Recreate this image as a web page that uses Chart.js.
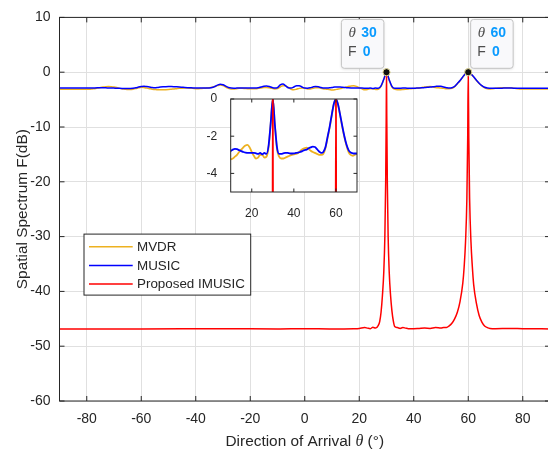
<!DOCTYPE html>
<html>
<head>
<meta charset="utf-8">
<script src="https://cdn.jsdelivr.net/npm/chart.js@4.4.1/dist/chart.umd.min.js"></script>
<style>
  html, body { margin: 0; padding: 0; background: #fff; }
  #wrap { position: relative; width: 548px; height: 453px; overflow: hidden; }
  #spectrum { position: absolute; left: 0; top: 0; }
  #zoomed { position: absolute; left: 190px; top: 85px; }
</style>
</head>
<body>
<div id="wrap">
  <canvas id="spectrum" width="560" height="453"></canvas>
  <canvas id="zoomed" width="175" height="140"></canvas>
</div>
<script>
// scan grid, 1 degree steps from -90 to 90
const theta = Array.from({ length: 181 }, (_, i) => i - 90);

const mvdrDb = [
  -3.1, -3.1, -3.1, -3.1, -3.1, -3.1, -3.1, -3.1, -3.1, -3.1,            // -90..-81
  -3.1, -3.1, -3.05, -3.0, -2.9, -2.8, -2.72, -2.66, -2.63, -2.65,       // -80..-71
  -2.7, -2.8, -2.95, -3.05, -3.1, -3.15, -3.15, -3.1, -3.0, -2.85,       // -70..-61
  -2.75, -2.8, -2.9, -3.0, -3.1, -3.15, -3.2, -3.2, -3.2, -3.18,         // -60..-51
  -3.15, -3.1, -3.05, -3.0, -2.95, -2.92, -2.9, -2.9, -2.92, -2.95,      // -50..-41
  -3.0, -3.0, -2.98, -2.95, -2.9, -2.85, -2.75, -2.6, -2.45, -2.35,      // -40..-31
  -2.45, -2.7, -2.95, -3.05, -3.05, -3.0, -2.95, -2.95, -2.97, -3.0,     // -30..-21
  -3.0, -3.0, -3.0, -2.95, -2.88, -2.8, -2.78, -2.85, -2.95, -3.05,      // -20..-11
  -3.0, -2.7, -2.45, -2.5, -2.8, -3.1, -3.2, -3.1, -2.95, -2.9,          // -10..-1
  -2.95, -3.05, -3.05, -2.95, -2.85, -2.85, -2.95, -3.05, -3.1, -3.15,   // 0..9
  -3.25, -3.2, -3.1, -3.0, -2.85, -2.72, -2.6, -2.5, -2.47, -2.6,        // 10..19
  -2.85, -3.05, -3.2, -3.15, -3.0, -3.0, -3.15, -3.1, -2.6, -1.35,       // 20..29
  0, -1.45, -2.7, -3.1, -3.2, -3.2, -3.15, -3.1, -3.05, -3.0,            // 30..39
  -2.98, -2.95, -2.9, -2.8, -2.7, -2.65, -2.62, -2.68, -2.78, -2.85,     // 40..49
  -2.9, -2.95, -3.0, -3.0, -2.95, -2.65, -2.1, -1.55, -0.9, -0.28,       // 50..59
  0, -0.32, -0.9, -1.5, -2.05, -2.5, -2.85, -3.0, -3.05, -3.0,           // 60..69
  -2.95, -2.9, -2.85, -2.82, -2.82, -2.85, -2.9, -2.95, -3.0, -3.05,     // 70..79
  -3.05, -3.05, -3.05, -3.05, -3.05, -3.05, -3.05, -3.05, -3.05, -3.05, -3.05 // 80..90
];

const musicDb = [
  -2.9, -2.9, -2.9, -2.9, -2.9, -2.9, -2.9, -2.9, -2.9, -2.9,            // -90..-81
  -2.9, -2.9, -2.88, -2.87, -2.86, -2.85, -2.85, -2.86, -2.87, -2.88,    // -80..-71
  -2.9, -2.92, -2.95, -2.97, -2.98, -2.98, -2.96, -2.92, -2.85, -2.72,   // -70..-61
  -2.62, -2.55, -2.62, -2.7, -2.8, -2.85, -2.8, -2.72, -2.66, -2.64,     // -60..-51
  -2.63, -2.63, -2.64, -2.66, -2.7, -2.75, -2.8, -2.83, -2.85, -2.87,    // -50..-41
  -2.9, -2.9, -2.9, -2.9, -2.9, -2.88, -2.8, -2.6, -2.35, -2.2,          // -40..-31
  -2.3, -2.55, -2.8, -2.9, -2.92, -2.9, -2.88, -2.87, -2.88, -2.9,       // -30..-21
  -2.9, -2.9, -2.88, -2.85, -2.7, -2.55, -2.5, -2.6, -2.8, -2.9,         // -20..-11
  -2.8, -2.3, -2.15, -2.5, -2.85, -2.9, -2.7, -2.45, -2.45, -2.7,        // -10..-1
  -2.9, -2.92, -2.85, -2.7, -2.6, -2.65, -2.8, -2.9, -2.9, -2.85,        // 0..9
  -2.8, -2.72, -2.68, -2.7, -2.75, -2.8, -2.85, -2.88, -2.9, -2.9,       // 10..19
  -2.9, -2.9, -2.92, -2.95, -2.9, -2.97, -2.9, -2.95, -2.5, -1.3,        // 20..29
  0, -1.4, -2.6, -2.95, -2.95, -2.92, -2.9, -2.9, -2.92, -2.93,          // 30..39
  -2.92, -2.9, -2.88, -2.85, -2.8, -2.75, -2.72, -2.65, -2.6, -2.56,     // 40..49
  -2.58, -2.7, -2.82, -2.9, -2.85, -2.6, -2.05, -1.5, -0.85, -0.25,      // 50..59
  0, -0.3, -0.85, -1.45, -2.0, -2.45, -2.75, -2.88, -2.92, -2.93,        // 60..69
  -2.93, -2.93, -2.92, -2.9, -2.9, -2.9, -2.9, -2.92, -2.93, -2.93,      // 70..79
  -2.93, -2.93, -2.93, -2.93, -2.93, -2.93, -2.93, -2.93, -2.93, -2.93, -2.93 // 80..90
];

// proposed method, sampled more finely around the two sources
const imusicTheta = [
  -90, -60, -30, -10, 0, 10, 18, 20, 22, 23, 24, 25, 26, 27, 27.5, 28, 28.5, 29, 29.4, 29.7, 29.9,
  30, 30.1, 30.3, 30.6, 31, 31.5, 32, 32.5, 33, 34, 35, 36, 37, 38, 40, 42, 44, 46, 48, 50, 51, 52,
  53, 54, 55, 56, 57, 58, 58.5, 59, 59.5, 59.8, 60, 60.2, 60.5, 61, 61.5, 62, 63, 64, 65, 66, 67,
  68, 70, 75, 80, 90
];
const imusicDb = [
  -46.85, -46.85, -46.8, -46.85, -46.8, -46.85, -46.8, -46.75, -46.6, -46.7, -46.8, -46.55, -46.7, -46.2, -45.5, -43.8, -40.8, -36.5, -30, -20, -8,
  0, -8, -20, -30, -36.5, -40.8, -43.6, -45.4, -46.4, -46.6, -46.75, -46.6, -46.7, -46.8, -46.8, -46.75, -46.7, -46.75, -46.6, -46.7, -46.6, -46.6,
  -46.3, -45.8, -45.0, -43.8, -41.8, -38.5, -35.5, -31, -23, -12, 0, -12, -23, -31, -35.5, -38.8, -42.2, -44.4, -45.6, -46.3, -46.6,
  -46.75, -46.8, -46.75, -46.8, -46.85
];

// marked peaks
const tipTheta = [30, 60];
const tipF = [0, 0];

const xTicks = [-80, -60, -40, -20, 0, 20, 40, 60, 80];
const yTicks = [-60, -50, -40, -30, -20, -10, 0, 10];
const insetXTicks = [20, 40, 60];
const insetYTicks = [-4, -2, 0];

const SANS = '"Liberation Sans", Arial, sans-serif';
const SERIF = '"Liberation Serif", "DejaVu Serif", serif';
const INK = '#262626';

const toPoints = (xs, ys) => xs.map((x, i) => ({ x, y: ys[i] }));

function seriesSets(width) {
  return [
    { label: 'MVDR', data: toPoints(theta, mvdrDb), borderColor: '#EDB120', order: 3 },
    { label: 'MUSIC', data: toPoints(theta, musicDb), borderColor: '#0000FF', order: 2 },
    { label: 'Proposed IMUSIC', data: toPoints(imusicTheta, imusicDb), borderColor: '#FF0000', order: 1 }
  ].map(d => Object.assign(d, {
    borderWidth: width, pointRadius: 0, fill: false, cubicInterpolationMode: 'monotone'
  }));
}

// box around the axes with inward ticks on all four sides
function drawFrame(chart, tickLen) {
  const { ctx, chartArea: a, scales } = chart;
  ctx.save();
  ctx.strokeStyle = INK;
  ctx.lineWidth = 1;
  ctx.strokeRect(a.left, a.top, a.right - a.left, a.bottom - a.top);
  ctx.beginPath();
  scales.x.ticks.forEach(t => {
    const px = scales.x.getPixelForValue(t.value);
    ctx.moveTo(px, a.bottom); ctx.lineTo(px, a.bottom - tickLen);
    ctx.moveTo(px, a.top); ctx.lineTo(px, a.top + tickLen);
  });
  scales.y.ticks.forEach(t => {
    const py = scales.y.getPixelForValue(t.value);
    ctx.moveTo(a.left, py); ctx.lineTo(a.left + tickLen, py);
    ctx.moveTo(a.right, py); ctx.lineTo(a.right - tickLen, py);
  });
  ctx.stroke();
  ctx.restore();
}

const mainDecor = {
  id: 'mainDecor',
  afterDraw(chart) {
    const { ctx, chartArea: a, scales } = chart;
    drawFrame(chart, 5);

    // x axis title with italic theta
    ctx.save();
    ctx.fillStyle = INK;
    ctx.textBaseline = 'middle';
    const parts = [
      ['Direction of Arrival ', '15.4px ' + SANS],
      ['\u03b8', 'italic 16px ' + SERIF],
      [' (\u00b0)', '15.4px ' + SANS]
    ];
    let total = 0;
    parts.forEach(p => { ctx.font = p[1]; total += ctx.measureText(p[0]).width; });
    let x = (a.left + a.right) / 2 - total / 2;
    parts.forEach(p => {
      ctx.font = p[1];
      ctx.textAlign = 'left';
      ctx.fillText(p[0], x, 442);
      x += ctx.measureText(p[0]).width;
    });
    ctx.restore();

    // legend
    const sets = chart.data.datasets.slice(0, 3);
    const lx = a.left + 24.5, ly = a.top + 216.7, lw = 166.7, lh = 61;
    ctx.save();
    ctx.fillStyle = '#fff';
    ctx.fillRect(lx, ly, lw, lh);
    ctx.strokeStyle = INK;
    ctx.lineWidth = 1;
    ctx.strokeRect(lx, ly, lw, lh);
    ctx.font = '13.4px ' + SANS;
    ctx.textBaseline = 'middle';
    sets.forEach((d, i) => {
      const ry = ly + 12.6 + i * 18.7;
      ctx.strokeStyle = d.borderColor;
      ctx.lineWidth = 1.5;
      ctx.beginPath();
      ctx.moveTo(lx + 5, ry); ctx.lineTo(lx + 48.7, ry);
      ctx.stroke();
      ctx.fillStyle = INK;
      ctx.fillText(d.label, lx + 53, ry + 0.5);
    });
    ctx.restore();

    // data tips
    tipTheta.forEach((t, i) => {
      const px = scales.x.getPixelForValue(t);
      const py = scales.y.getPixelForValue(tipF[i]);
      const w = 42.5, top = a.top + 2, bottom = 68.3;
      const left = i === 0 ? px - 2.6 - w : px + 2.4;
      ctx.save();
      ctx.shadowColor = 'rgba(0,0,0,0.15)';
      ctx.shadowBlur = 3;
      ctx.shadowOffsetY = 1;
      ctx.fillStyle = '#f9f9fb';
      ctx.beginPath();
      ctx.roundRect(left, top, w, bottom - top, 3);
      ctx.fill();
      ctx.shadowColor = 'transparent';
      ctx.strokeStyle = '#c4c4c4';
      ctx.lineWidth = 1;
      ctx.stroke();
      ctx.textBaseline = 'middle';
      ctx.textAlign = 'left';
      ctx.fillStyle = '#4d4d4d';
      ctx.font = 'italic 15px ' + SERIF;
      ctx.fillText('\u03b8', left + 7, 32.7);
      ctx.font = '14px ' + SANS;
      ctx.fillText('F', left + 6.6, 52.3);
      ctx.fillStyle = '#0a9bff';
      ctx.font = 'bold 14px ' + SANS;
      ctx.fillText(String(t), left + 19.8, 32.7);
      ctx.fillText(String(tipF[i]), left + 21.4, 52.3);
      ctx.restore();

      ctx.save();
      ctx.fillStyle = '#111';
      ctx.strokeStyle = '#e8df9a';
      ctx.lineWidth = 1;
      ctx.beginPath();
      ctx.arc(px, py, 3.6, 0, Math.PI * 2);
      ctx.fill();
      ctx.stroke();
      ctx.restore();
    });
  }
};

new Chart(document.getElementById('spectrum'), {
  type: 'line',
  data: { datasets: seriesSets(1.5) },
  options: {
    responsive: false,
    animation: false,
    events: [],
    layout: { padding: { left: 0, right: 10, top: 15, bottom: 0 } },
    plugins: { legend: { display: false }, tooltip: { enabled: false } },
    scales: {
      x: {
        type: 'linear', min: -90, max: 90,
        afterBuildTicks: s => { s.ticks = xTicks.map(value => ({ value })); },
        afterFit: s => { s.height = 52; },
        grid: { color: '#e0e0e0', drawTicks: false },
        border: { display: false },
        ticks: { color: INK, font: { family: SANS, size: 14 }, padding: 9.5, maxRotation: 0, autoSkip: false }
      },
      y: {
        type: 'linear', min: -60, max: 10,
        afterBuildTicks: s => { s.ticks = yTicks.map(value => ({ value })); },
        afterFit: s => { s.width = 59.5; },
        grid: { color: '#e0e0e0', drawTicks: false },
        border: { display: false },
        ticks: { color: INK, font: { family: SANS, size: 14 }, padding: 9 },
        title: {
          display: true, text: 'Spatial Spectrum F(dB)', color: INK,
          font: { family: SANS, size: 15.4 }, padding: { top: 13.6, bottom: 0 }
        }
      }
    }
  },
  plugins: [mainDecor]
});

// zoomed view around the two sources
const insetDecor = {
  id: 'insetDecor',
  beforeDraw(chart) {
    const { ctx, chartArea: a } = chart;
    ctx.save();
    ctx.fillStyle = '#fff';
    ctx.fillRect(a.left, a.top, a.right - a.left, a.bottom - a.top);
    ctx.restore();
  },
  afterDraw(chart) { drawFrame(chart, 3.5); }
};

new Chart(document.getElementById('zoomed'), {
  type: 'line',
  data: { datasets: seriesSets(1.8) },
  options: {
    responsive: false,
    animation: false,
    events: [],
    layout: { padding: { left: 0, right: 8, top: 14, bottom: 0 } },
    plugins: { legend: { display: false }, tooltip: { enabled: false } },
    scales: {
      x: {
        type: 'linear', min: 10, max: 70,
        afterBuildTicks: s => { s.ticks = insetXTicks.map(value => ({ value })); },
        afterFit: s => { s.height = 33; },
        grid: { display: false },
        border: { display: false },
        ticks: { color: INK, font: { family: SANS, size: 12 }, padding: 6, maxRotation: 0, autoSkip: false }
      },
      y: {
        type: 'linear', min: -5, max: 0,
        afterBuildTicks: s => { s.ticks = insetYTicks.map(value => ({ value })); },
        afterFit: s => { s.width = 40.7; },
        grid: { display: false },
        border: { display: false },
        ticks: { color: INK, font: { family: SANS, size: 12 }, padding: 5.5 }
      }
    }
  },
  plugins: [insetDecor]
});
</script>
</body>
</html>
